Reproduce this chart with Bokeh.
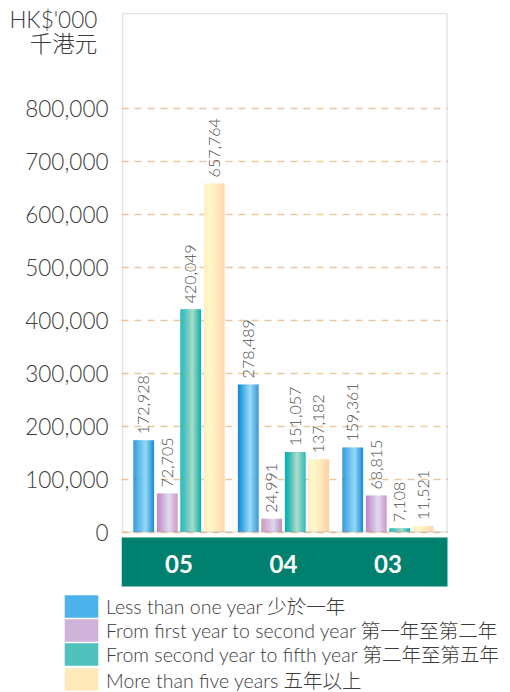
import numpy as np
from bokeh.plotting import figure
from bokeh.layouts import column
from bokeh.models import (Range1d, FixedTicker, NumeralTickFormatter, BoxAnnotation,
                          Legend, LegendItem, ColumnDataSource)
from bokeh.core.properties import value
from bokeh.embed import file_html
from bokeh.resources import INLINE

# ---------------- data ----------------
years = ["05", "04", "03"]
series_names = [
    "Less than one year 少於一年",
    "From first year to second year 第一年至第二年",
    "From second year to fifth year 第二年至第五年",
    "More than five years 五年以上",
]
less_than_one = [172928, 278489, 159361]
first_to_second = [72705, 24991, 68815]
second_to_fifth = [420049, 151057, 7108]
more_than_five = [657764, 137182, 11521]
tick_values = [0, 100000, 200000, 300000, 400000, 500000, 600000, 700000, 800000]
unit_lines = ["HK$'000", "千港元"]

series_values = [less_than_one, first_to_second, second_to_fifth, more_than_five]

# ---------------- styles ----------------
FONT = "'Lato Light', Lato, 'Noto Sans CJK TC Light', 'Noto Sans CJK TC', sans-serif"
FONT_BOLD = "Lato, 'Noto Sans CJK TC', sans-serif"
gradients = [
    [(0.0, "#1488d2"), (0.2, "#3aa6e4"), (0.6, "#92d8f8"), (1.0, "#1a8cd4")],
    [(0.0, "#bf88c0"), (0.25, "#cca8d4"), (0.6, "#dcd8ee"), (1.0, "#c48cc2")],
    [(0.0, "#00b0b2"), (0.25, "#40bcb8"), (0.6, "#a8dac4"), (1.0, "#0cb0b0")],
    [(0.0, "#fff0c0"), (0.3, "#fff6c4"), (0.65, "#ffe6b8"), (1.0, "#ffcfa8")],
]
legend_colors = ["#4eb2ea", "#cfb2da", "#4fc0bb", "#ffe8ba"]


def hex2rgb(h):
    h = h.lstrip("#")
    return np.array([int(h[i:i + 2], 16) for i in (0, 2, 4)], dtype=float)


def grad_color(stops, t):
    for (p0, c0), (p1, c1) in zip(stops[:-1], stops[1:]):
        if p0 <= t <= p1:
            f = (t - p0) / (p1 - p0)
            c = hex2rgb(c0) * (1 - f) + hex2rgb(c1) * f
            return "#%02x%02x%02x" % tuple(int(round(v)) for v in c)
    return stops[-1][1]


# ---------------- geometry (pixel calibration, page coordinates) ----------------
W = 510
H_MAIN = 590
H_LEG = 102
PX_PER_UNIT_X = 104.5
PX_PER_VAL = 53.0 / 100000.0
ZERO_PX = 531.5
FRAME_LEFT, FRAME_RIGHT, FRAME_TOP, FRAME_BOTTOM = 121, 448, 12, H_MAIN
CENTER0_PX = 178.5


def xval(px):
    return (px - CENTER0_PX) / PX_PER_UNIT_X


def yval(py):
    return (ZERO_PX - py) / PX_PER_VAL


x_start, x_end = xval(FRAME_LEFT), xval(FRAME_RIGHT)
y_start, y_end = yval(FRAME_BOTTOM), yval(FRAME_TOP)

p = figure(width=W, height=H_MAIN, output_backend="svg", toolbar_location=None,
           x_range=Range1d(x_start, x_end), y_range=Range1d(y_start, y_end),
           x_axis_type=None, title=None,
           min_border_left=FRAME_LEFT, min_border_right=W - FRAME_RIGHT,
           min_border_top=FRAME_TOP, min_border_bottom=0)
p.frame_align = False
p.outline_line_color = None
p.background_fill_color = None
p.border_fill_color = None
p.xgrid.visible = False

# y axis (unit heading shown as two extra labels at the top of the axis)
head_ticks = [round(yval(19.5)), round(yval(43.5))]
ax = p.yaxis[0]
ax.ticker = FixedTicker(ticks=tick_values + head_ticks)
ax.formatter = NumeralTickFormatter(format="0,0")
ax.major_label_overrides = {head_ticks[0]: unit_lines[0] + "\u2002",
                            head_ticks[1]: unit_lines[1] + "\u2002"}
ax.axis_line_color = None
ax.major_tick_line_color = None
ax.minor_tick_line_color = None
ax.major_tick_out = 0
ax.major_tick_in = 0
ax.major_label_standoff = 13
ax.major_label_text_font = FONT
ax.major_label_text_font_size = "22.5px"
ax.major_label_text_color = "#3c3c3c"

p.ygrid.ticker = FixedTicker(ticks=tick_values)
p.ygrid.grid_line_color = "#ebc89c"
p.ygrid.grid_line_dash = "7 6"
p.ygrid.grid_line_width = 1.3

# green band (under the year labels)
p.add_layout(BoxAnnotation(left=x_start, right=xval(447), bottom=yval(586), top=yval(537),
                           fill_color="#00806e", fill_alpha=1, line_color=None,
                           level="underlay"))

# bars with simulated gradient (narrow strips)
bar_w = 20.5 / PX_PER_UNIT_X
pitch = 23.5 / PX_PER_UNIT_X
offsets = [(-1.5 + k) * pitch for k in range(4)]
N = 20
x_idx = np.arange(len(years), dtype=float)

for k, vals in enumerate(series_values):
    vals = np.array(vals, dtype=float)
    xs, tops, cols = [], [], []
    for i in range(N):
        c = grad_color(gradients[k], (i + 0.5) / N)
        for j in range(len(years)):
            xs.append(x_idx[j] + offsets[k] - bar_w / 2 + (i + 0.5) * bar_w / N)
            tops.append(vals[j])
            cols.append(c)
    src = ColumnDataSource(dict(x=xs, top=tops, color=cols))
    p.vbar(x="x", top="top", bottom=0, width=bar_w / N * 1.25, source=src,
           fill_color="color", line_color=None)

    lsrc = ColumnDataSource(dict(x=x_idx + offsets[k], y=vals,
                                 t=[f"{int(v):,}" for v in vals]))
    p.text(x="x", y="y", text="t", source=lsrc, angle=np.pi / 2,
           text_align="left", text_baseline="middle", y_offset=-6,
           text_font=value(FONT), text_font_size="16px", text_color="#4e4e4e")

# plot frame
p.add_layout(BoxAnnotation(left=xval(122), right=xval(446.5), bottom=0, top=yval(13),
                           fill_alpha=0, line_color="#a0a0a0", line_width=1.5))

# year labels in the band
ysrc = ColumnDataSource(dict(x=x_idx, y=[yval(563)] * len(years), t=years))
p.text(x="x", y="y", text="t", source=ysrc, text_align="center", text_baseline="middle",
       text_font=value(FONT_BOLD), text_font_style="bold", text_font_size="24px",
       text_color="white")

# ---------------- legend figure ----------------
fl = figure(width=W, height=H_LEG, output_backend="svg", toolbar_location=None,
            x_range=Range1d(0, 1), y_range=Range1d(0, 1),
            x_axis_type=None, y_axis_type=None, title=None,
            min_border_left=0, min_border_right=0, min_border_top=0, min_border_bottom=0)
fl.frame_align = False
fl.outline_line_color = None
fl.grid.visible = False
fl.background_fill_color = None
fl.border_fill_color = None

# one single-row legend per series so that the row pitch matches the reference
row_centers = [606, 630, 654, 679.5]   # page y of each legend row
ITEM_H = 28
for k, name in enumerate(series_names):
    # proxy renderer placed outside the visible range, used only for the legend swatch
    r = fl.vbar(x=[5], top=[0], width=0.1, fill_color=legend_colors[k], line_color=None)
    vy = (H_MAIN + H_LEG) - (row_centers[k] + ITEM_H / 2)
    lg = Legend(items=[LegendItem(label=name, renderers=[r])], location=(60, vy),
                glyph_width=42, glyph_height=ITEM_H, label_height=ITEM_H, spacing=0,
                label_standoff=4, padding=0, margin=0,
                border_line_color=None, background_fill_alpha=0,
                label_text_font=FONT, label_text_font_size="19.5px",
                label_text_color="#3c3c3c", label_text_baseline="middle")
    fl.add_layout(lg, "center")

layout = column(p, fl, spacing=0)
open("out.html", "w").write(file_html(layout, INLINE))
